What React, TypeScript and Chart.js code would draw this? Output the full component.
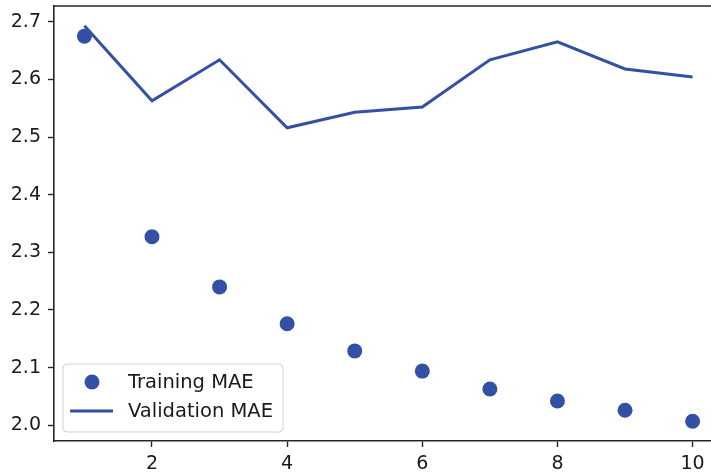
import React, { useEffect, useRef } from "react";
import { Chart, registerables } from "chart.js";

Chart.register(...registerables);

const epochs = [1, 2, 3, 4, 5, 6, 7, 8, 9, 10];
const trainingMAE = [2.675, 2.327, 2.24, 2.176, 2.129, 2.094, 2.063, 2.042, 2.026, 2.007];
const validationMAE = [2.693, 2.563, 2.634, 2.516, 2.543, 2.552, 2.634, 2.665, 2.618, 2.604];
const xTicks = [2, 4, 6, 8, 10];
const yTicks = [2.0, 2.1, 2.2, 2.3, 2.4, 2.5, 2.6, 2.7];
const seriesLabels = ["Training MAE", "Validation MAE"];
// visible x-range: the original figure is cut off on the right
const xRange = [0.55, 10.272];
const yRange = [1.9727, 2.7273];

const BLUE = "#3450a4";
const INK = "#262626";
const FONT = "DejaVu Sans";

const framePlugin = {
  id: "frame",
  afterDatasetsDraw(chart: any) {
    const { ctx, chartArea } = chart;
    ctx.save();
    ctx.strokeStyle = INK;
    ctx.lineWidth = 1.6;
    ctx.beginPath();
    ctx.moveTo(chartArea.left, chartArea.top);
    ctx.lineTo(chartArea.right + 2, chartArea.top);
    ctx.stroke();
    ctx.restore();
  },
};

const legendPlugin = {
  id: "innerLegend",
  afterDraw(chart: any) {
    const { ctx, chartArea } = chart;
    const x = chartArea.left + 9;
    const bottom = chartArea.bottom - 9;
    const w = 220;
    const h = 68;
    const y = bottom - h;
    ctx.save();
    ctx.beginPath();
    const r = 4;
    ctx.moveTo(x + r, y);
    ctx.lineTo(x + w - r, y);
    ctx.quadraticCurveTo(x + w, y, x + w, y + r);
    ctx.lineTo(x + w, y + h - r);
    ctx.quadraticCurveTo(x + w, y + h, x + w - r, y + h);
    ctx.lineTo(x + r, y + h);
    ctx.quadraticCurveTo(x, y + h, x, y + h - r);
    ctx.lineTo(x, y + r);
    ctx.quadraticCurveTo(x, y, x + r, y);
    ctx.closePath();
    ctx.fillStyle = "rgba(255,255,255,0.8)";
    ctx.fill();
    ctx.strokeStyle = "#d0d0d0";
    ctx.lineWidth = 1;
    ctx.stroke();

    const row1 = y + 18;
    const row2 = y + 47;
    ctx.fillStyle = BLUE;
    ctx.beginPath();
    ctx.arc(x + 29, row1, 7.5, 0, Math.PI * 2);
    ctx.fill();
    ctx.strokeStyle = BLUE;
    ctx.lineWidth = 3;
    ctx.beginPath();
    ctx.moveTo(x + 7, row2);
    ctx.lineTo(x + 50, row2);
    ctx.stroke();

    ctx.fillStyle = "#1a1a1a";
    ctx.font = `19.5px "${FONT}"`;
    ctx.textAlign = "left";
    ctx.textBaseline = "middle";
    ctx.fillText(seriesLabels[0], x + 65, row1 + 1);
    ctx.fillText(seriesLabels[1], x + 65, row2 + 1);
    ctx.restore();
  },
};

export default function App() {
  const ref = useRef<HTMLCanvasElement | null>(null);

  useEffect(() => {
    document.body.style.margin = "0";
    const canvas = ref.current;
    if (!canvas) return;
    const chart = new Chart(canvas, {
      type: "line",
      data: {
        datasets: [
          {
            label: seriesLabels[0],
            data: epochs.map((e, i) => ({ x: e, y: trainingMAE[i] })),
            showLine: false,
            pointRadius: 7.5,
            pointBackgroundColor: BLUE,
            pointBorderWidth: 0,
            borderColor: BLUE,
          },
          {
            label: seriesLabels[1],
            data: epochs.map((e, i) => ({ x: e, y: validationMAE[i] })),
            borderColor: BLUE,
            borderWidth: 3,
            pointRadius: 0,
            tension: 0,
          },
        ],
      },
      options: {
        responsive: false,
        animation: false,
        layout: { autoPadding: false, padding: { left: 0, top: 6, right: 0, bottom: 0 } },
        plugins: { legend: { display: false }, tooltip: { enabled: false } },
        scales: {
          x: {
            type: "linear",
            min: xRange[0],
            max: xRange[1],
            afterFit(scale: any) {
              scale.height = 35;
              scale.paddingLeft = 0;
              scale.paddingRight = 0;
              scale.paddingTop = 0;
              scale.paddingBottom = 0;
            },
            afterBuildTicks(scale: any) {
              scale.ticks = xTicks.map((v) => ({ value: v }));
            },
            grid: {
              display: true,
              drawOnChartArea: false,
              drawTicks: true,
              tickLength: 6,
              tickWidth: 1.4,
              tickColor: INK,
            },
            border: { display: true, color: INK, width: 1.6 },
            ticks: {
              padding: 6,
              color: "#1a1a1a",
              font: { family: FONT, size: 19 },
              maxRotation: 0,
              autoSkip: false,
              callback: (v: any) => String(v),
            },
          },
          y: {
            type: "linear",
            min: yRange[0],
            max: yRange[1],
            afterFit(scale: any) {
              scale.width = 54;
              scale.paddingLeft = 0;
              scale.paddingRight = 0;
              scale.paddingTop = 0;
              scale.paddingBottom = 0;
            },
            afterBuildTicks(scale: any) {
              scale.ticks = yTicks.map((v) => ({ value: v }));
            },
            grid: {
              display: true,
              drawOnChartArea: false,
              drawTicks: true,
              tickLength: 6,
              tickWidth: 1.4,
              tickColor: INK,
            },
            border: { display: true, color: INK, width: 1.6 },
            ticks: {
              padding: 7,
              color: "#1a1a1a",
              font: { family: FONT, size: 19 },
              autoSkip: false,
              callback: (v: any) => Number(v).toFixed(1),
            },
          },
        },
      },
      plugins: [framePlugin, legendPlugin],
    } as any);
    return () => chart.destroy();
  }, []);

  return (
    <div style={{ position: "absolute", left: 0, top: 0, width: 711, height: 476, overflow: "hidden", background: "#fff" }}>
      <canvas ref={ref} width={711} height={476} style={{ width: 711, height: 476, display: "block" }} />
    </div>
  );
}
